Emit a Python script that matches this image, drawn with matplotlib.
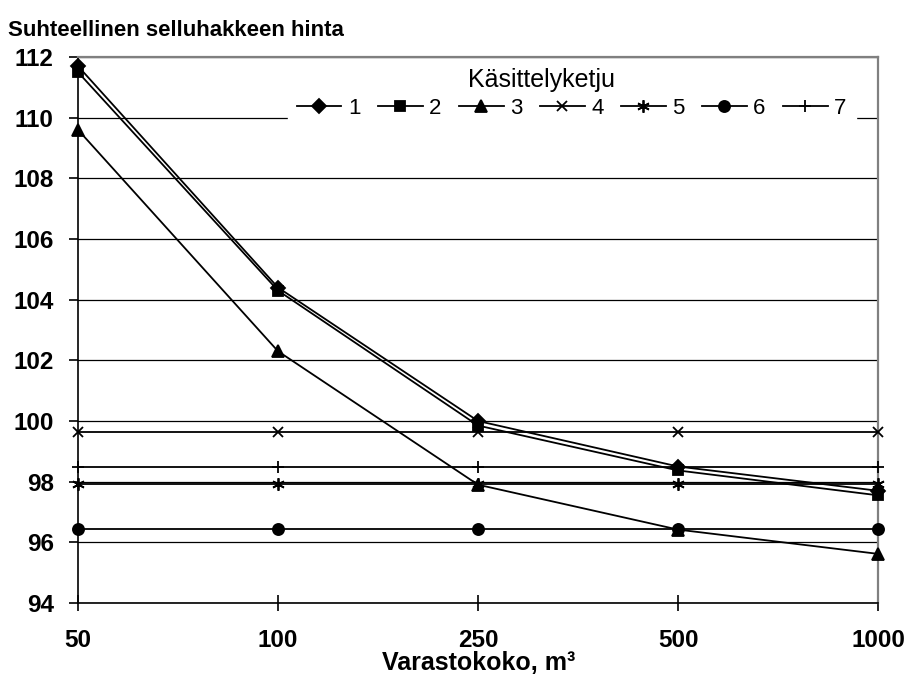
import numpy as np
import matplotlib.pyplot as plt

plt.rcParams['font.family'] = ['Liberation Sans', 'DejaVu Sans']

# varastokoot (luokka-akseli) ja käsittelyketjujen suhteelliset hinnat
sizes = ["50", "100", "250", "500", "1000"]
chain_names = ["1", "2", "3", "4", "5", "6", "7"]
chain_1 = [111.7, 104.4, 100.0, 98.5, 97.7]
chain_2 = [111.5, 104.3, 99.85, 98.37, 97.55]
chain_3 = [109.6, 102.3, 97.9, 96.42, 95.62]
chain_4 = [99.63, 99.63, 99.63, 99.63, 99.63]
chain_5 = [97.91, 97.91, 97.91, 97.91, 97.91]
chain_6 = [96.43, 96.43, 96.43, 96.43, 96.43]
chain_7 = [98.48, 98.48, 98.48, 98.48, 98.48]

series = [chain_1, chain_2, chain_3, chain_4, chain_5, chain_6, chain_7]
markers = ['D', 's', '^', 'x', (6, 2, 0), 'o', '+']
msizes = [7, 7, 8.5, 7.5, 9, 8, 9]

fig = plt.figure(figsize=(9.08, 6.77), dpi=100)
ax = fig.add_axes([0.0859, 0.1093, 0.8811, 0.8065])

x = np.arange(len(sizes))
handles = []
for vals, name, mk, ms in zip(series, chain_names, markers, msizes):
    ln, = ax.plot(x, vals, color='black', lw=1.3, marker=mk, markersize=ms,
                  markeredgewidth=1.3, clip_on=False, zorder=3, label=name)
    handles.append(ln)

ax.set_xlim(0, len(sizes) - 1)
ax.set_ylim(94, 112)
ax.set_yticks(np.arange(94, 113, 2))
ax.set_xticks(x)
ax.set_xticklabels(sizes)

ax.yaxis.grid(True, color='black', lw=0.9, zorder=1)
ax.set_axisbelow(True)

for s in ['top', 'right']:
    ax.spines[s].set_color('#808080')
    ax.spines[s].set_linewidth(1.6)
for s in ['left', 'bottom']:
    ax.spines[s].set_color('black')
    ax.spines[s].set_linewidth(1.2)

ax.tick_params(axis='y', direction='out', length=6.5, width=1.2, pad=11,
               labelsize=17.5)
ax.tick_params(axis='x', direction='inout', length=11.5, width=1.2, pad=13,
               labelsize=17.5)
for lab in ax.get_xticklabels() + ax.get_yticklabels():
    lab.set_fontweight('bold')

fig.text(0.009, 1 - 30 / 677, "Suhteellinen selluhakkeen hinta", fontsize=16,
         fontweight='bold', ha='left', va='center')
fig.text(479 / 908, 1 - 663 / 677, "Varastokoko, m³", fontsize=18,
         fontweight='bold', ha='center', va='center')

# selite ilman kehystä, valkoinen tausta peittää ruudukon
leg = ax.legend(handles=handles, ncol=7, loc='upper left',
                bbox_to_anchor=(288 / 908, 1 - 89 / 677),
                bbox_transform=fig.transFigure, borderaxespad=0,
                frameon=True, fontsize=16, handlelength=2.0,
                handletextpad=0.3, columnspacing=0.79, borderpad=0.4,
                fancybox=False)
leg.get_frame().set_edgecolor('white')
leg.get_frame().set_facecolor('white')
leg.get_frame().set_alpha(1.0)
fig.text(541 / 908, 1 - 80 / 677, "Käsittelyketju", fontsize=18,
         ha='center', va='center')

fig.savefig("out.png", dpi=100)
